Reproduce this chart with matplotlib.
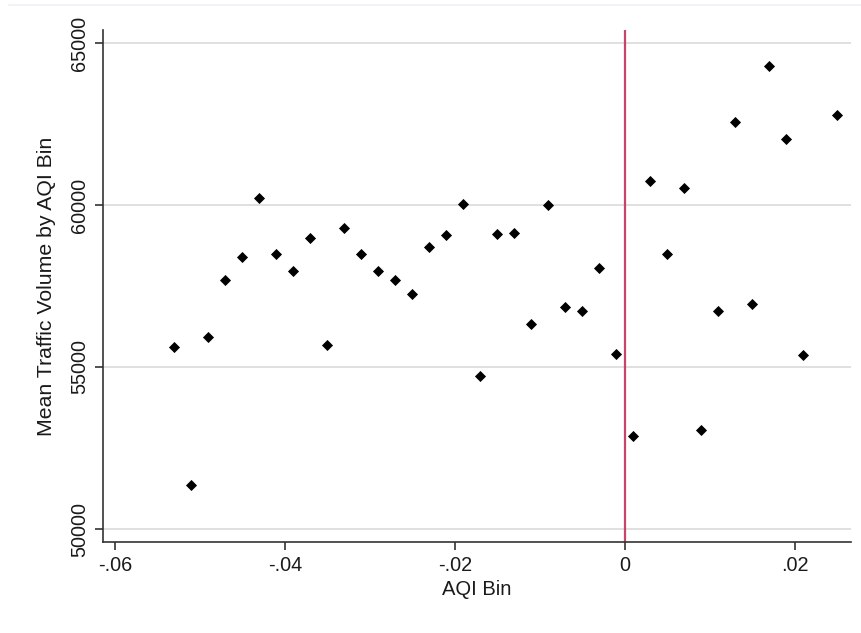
import numpy as np
import matplotlib
matplotlib.use('Agg')
import matplotlib.pyplot as plt
from matplotlib.lines import Line2D

plt.rcParams['font.family'] = ['Liberation Sans', 'DejaVu Sans']

# AQI bin centres and mean traffic volume
aqi_bin = [-0.053, -0.051, -0.049, -0.047, -0.045, -0.043, -0.041, -0.039,
           -0.037, -0.035, -0.033, -0.031, -0.029, -0.027, -0.025, -0.023,
           -0.021, -0.019, -0.017, -0.015, -0.013, -0.011, -0.009, -0.007,
           -0.005, -0.003, -0.001, 0.001, 0.003, 0.005, 0.007, 0.009,
           0.011, 0.013, 0.015, 0.017, 0.019, 0.021, 0.025]
traffic = [55620, 51360, 55930, 57690, 58400, 60210, 58490, 57960,
           58980, 55680, 59290, 58490, 57960, 57690, 57250, 58700,
           59070, 60030, 54720, 59100, 59140, 56330, 60000, 56850,
           56730, 58060, 55400, 52870, 60740, 58490, 60530, 53060,
           56730, 62560, 56940, 64290, 62040, 55370, 62780]

x_ticks = [-0.06, -0.04, -0.02, 0, 0.02]
x_ticklabels = ['-.06', '-.04', '-.02', '0', '.02']
y_ticks = [50000, 55000, 60000, 65000]

fig = plt.figure(figsize=(8.62, 6.33), dpi=100)
ax = fig.add_axes([0.1195, 0.1438, 0.8677, 0.8088])

# faint strip line at the very top
fig.add_artist(Line2D([0.01, 1.0], [0.992, 0.992], transform=fig.transFigure,
                      color='#EDF2F6', lw=1.2))

ax.scatter(aqi_bin, traffic, marker='D', s=32, color='black', zorder=3,
           linewidths=0)
ax.axvline(0, color='#C9446A', lw=1.6, zorder=2)

ax.set_xlim(-0.0614, 0.0266)
ax.set_ylim(49600, 65400)
ax.set_xticks(x_ticks)
ax.set_xticklabels(x_ticklabels)
ax.set_yticks(y_ticks)
ax.set_yticklabels([str(v) for v in y_ticks], rotation=90, va='center')

ax.grid(True, axis='y', color='#DADADA', lw=1.2)
ax.set_axisbelow(True)
for side in ['top', 'right']:
    ax.spines[side].set_visible(False)
for side in ['left', 'bottom']:
    ax.spines[side].set_color('#333333')
    ax.spines[side].set_linewidth(1.2)

ax.tick_params(axis='both', direction='out', length=6, width=1.2,
               color='#333333', labelsize=14.3, labelcolor='#1a1a1a', pad=4)

ax.set_xlabel('AQI Bin', fontsize=14.5, color='#1a1a1a', labelpad=4)
ax.set_ylabel('Mean Traffic Volume by AQI Bin', fontsize=15.3, color='#1a1a1a',
              labelpad=10)

fig.savefig('out.png', dpi=100)
